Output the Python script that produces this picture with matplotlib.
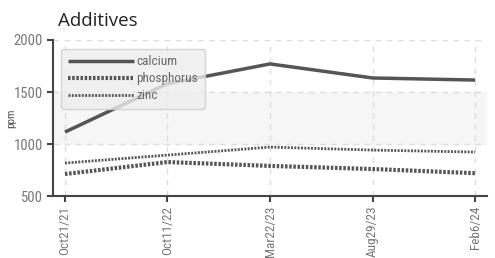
import matplotlib.pyplot as plt

dates = ['Oct21/21', 'Oct11/22', 'Mar22/23', 'Aug29/23', 'Feb6/24']
calcium = [1115, 1580, 1770, 1635, 1615]
phosphorus = [712, 827, 790, 760, 720]
zinc = [817, 894, 971, 942, 923]

plt.rcParams['font.family'] = ['Roboto Condensed', 'DejaVu Sans']

fig = plt.figure(figsize=(4.95, 2.58), dpi=100)
ax = fig.add_axes([0.107, 0.240, 0.877, 0.605])

x = list(range(len(dates)))
ax.axhspan(1000, 1500, color='#f6f6f6', zorder=0)

ax.plot(x, calcium, color='#555555', lw=2.5, solid_capstyle='butt', label='calcium', zorder=3)
ax.plot(x, phosphorus, color='#555555', lw=3, ls=(0, (0.6, 0.4)), label='phosphorus', zorder=3)
ax.plot(x, zinc, color='#555555', lw=2, ls=(0, (0.7, 0.5)), label='zinc', zorder=3)

ax.set_xlim(-0.117, 4.117)
ax.set_ylim(500, 2000)
ax.set_yticks([500, 1000, 1500, 2000])
ax.set_xticks(x)
ax.set_xticklabels(dates, rotation=90)
ax.grid(True, ls=(0, (4, 4)), color='#dddddd', lw=1)
ax.set_axisbelow(True)
for s in ['top', 'right']:
    ax.spines[s].set_visible(False)
for s in ['left', 'bottom']:
    ax.spines[s].set_color('#444444')
    ax.spines[s].set_linewidth(1.5)
ax.tick_params(colors='#444444', labelcolor='#777777', labelsize=9.5, length=4, width=1.5, pad=3)
ax.tick_params(axis='y', labelsize=10.5)
ax.set_ylabel('ppm', fontsize=8, color='#555555')
ax.yaxis.set_label_coords(-0.085, 0.5)

fig.text(0.117, 0.9, 'Additives', fontsize=13.5, family='Open Sans', color='#222222')

leg = ax.legend(loc='upper left', bbox_to_anchor=(0.01, 0.97), fontsize=9.5, handlelength=5,
                handletextpad=0.2, labelspacing=0.3, borderaxespad=0.3, borderpad=0.5,
                frameon=True, fancybox=True, facecolor='#eeeeee', edgecolor='#cccccc',
                framealpha=0.8)
for t in leg.get_texts():
    t.set_color('#666666')

fig.savefig('out.png', dpi=100)
